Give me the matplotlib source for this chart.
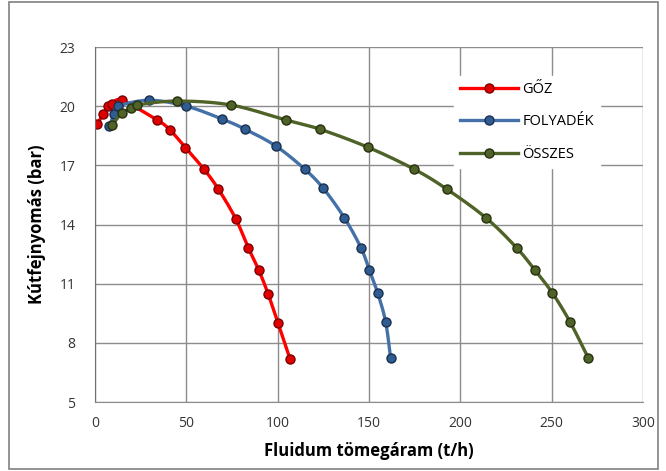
import matplotlib
matplotlib.use("Agg")
import matplotlib.pyplot as plt
import numpy as np
from matplotlib.patches import Rectangle
from matplotlib.lines import Line2D

# Data
goz_x = [1.3, 4.5, 7.3, 9.5, 14.6, 34.0, 41.0, 49.5, 59.7, 67.5, 77.0, 84.0, 89.6, 94.7, 100.2, 106.7]
goz_y = [19.1, 19.6, 20.0, 20.1, 20.3, 19.3, 18.8, 17.9, 16.8, 15.8, 14.3, 12.8, 11.7, 10.5, 9.0, 7.2]

foly_x = [7.7, 10.6, 12.8, 29.7, 50.0, 69.5, 82.0, 99.0, 114.9, 125.0, 136.5, 145.6, 150.2, 154.7, 159.1, 161.8]
foly_y = [19.0, 19.6, 20.0, 20.3, 20.0, 19.35, 18.84, 17.98, 16.8, 15.83, 14.34, 12.82, 11.69, 10.54, 9.07, 7.24]

ossz_x = [9.5, 14.6, 19.7, 23.2, 44.7, 74.4, 104.5, 123.2, 149.6, 174.8, 192.5, 214.0, 230.8, 240.8, 250.3, 260.0, 270.0]
ossz_y = [19.05, 19.64, 19.89, 20.06, 20.26, 20.06, 19.3, 18.83, 17.91, 16.8, 15.8, 14.34, 12.82, 11.69, 10.54, 9.07, 7.24]

x_ticks = [0, 50, 100, 150, 200, 250, 300]
y_ticks = [5, 8, 11, 14, 17, 20, 23]

plt.rcParams['font.family'] = ['Open Sans', 'DejaVu Sans']

fig = plt.figure(figsize=(6.66, 4.71), dpi=100)
ax = fig.add_axes([95/666, 1 - 402/471, (643 - 95)/666, (402 - 47)/471])
ax.set_xlim(0, 300)
ax.set_ylim(5, 23)

fig.patches.append(Rectangle((0.014, 0.005), 0.974, 0.99, transform=fig.transFigure,
                             fill=False, edgecolor='#808080', linewidth=1.2))


def smooth_display(xs, ys, n=24):
    """Catmull-Rom smoothing in display space (like a smoothed Excel line)."""
    pts = ax.transData.transform(np.column_stack([xs, ys]))
    p = np.vstack([pts[0], pts, pts[-1]])
    out = []
    t = np.linspace(0, 1, n, endpoint=False)[:, None]
    for i in range(1, len(p) - 2):
        p0, p1, p2, p3 = p[i - 1], p[i], p[i + 1], p[i + 2]
        seg = 0.5 * ((2 * p1) + (-p0 + p2) * t + (2 * p0 - 5 * p1 + 4 * p2 - p3) * t ** 2
                     + (-p0 + 3 * p1 - 3 * p2 + p3) * t ** 3)
        out.append(seg)
    out.append(pts[-1][None, :])
    out = np.vstack(out)
    return ax.transData.inverted().transform(out)


series = [
    (goz_x, goz_y, 'GŐZ', '#FF0000', '#E00000', '#7A0000'),
    (foly_x, foly_y, 'FOLYADÉK', '#4472A8', '#2F5D92', '#1A2F4F'),
    (ossz_x, ossz_y, 'ÖSSZES', '#4F6228', '#4F6228', '#26300F'),
]
handles = []
for xs, ys, lab, lc, mf, me in series:
    curve = smooth_display(xs, ys)
    ax.plot(curve[:, 0], curve[:, 1], color=lc, linewidth=2.4, solid_capstyle='round')
    ax.plot(xs, ys, linestyle='none', marker='o', markersize=6.5,
            markerfacecolor=mf, markeredgecolor=me, markeredgewidth=1.0)
    handles.append(Line2D([], [], color=lc, linewidth=2.4, marker='o', markersize=6.5,
                          markerfacecolor=mf, markeredgecolor=me, markeredgewidth=1.0,
                          label=lab))

ax.set_xticks(x_ticks)
ax.set_yticks(y_ticks)
ax.grid(True, color='#8C8C8C', linewidth=1.0)
ax.set_axisbelow(True)
for s in ['top', 'right']:
    ax.spines[s].set_visible(False)
ax.spines['left'].set_color('#707070')
ax.spines['bottom'].set_color('#8C8C8C')
ax.tick_params(length=0, pad=10, labelsize=10, colors='#333333')
ax.tick_params(axis='y', pad=14)

ax.set_xlabel('Fluidum tömegáram (t/h)', fontsize=12, fontweight='bold', labelpad=8)
ax.set_ylabel('Kútfejnyomás (bar)', fontsize=12, fontweight='bold', labelpad=10)

leg = ax.legend(handles=handles, loc='upper left', bbox_to_anchor=(0.655, 0.918),
                borderaxespad=0, frameon=True, fontsize=10.5, handlelength=4.0,
                labelspacing=1.2, borderpad=0.4, handletextpad=0.3)
leg.get_frame().set_edgecolor('white')
leg.get_frame().set_facecolor('white')
leg.get_frame().set_alpha(1.0)
leg.get_frame().set_boxstyle('square', pad=0)

fig.savefig('out.png', dpi=100)
